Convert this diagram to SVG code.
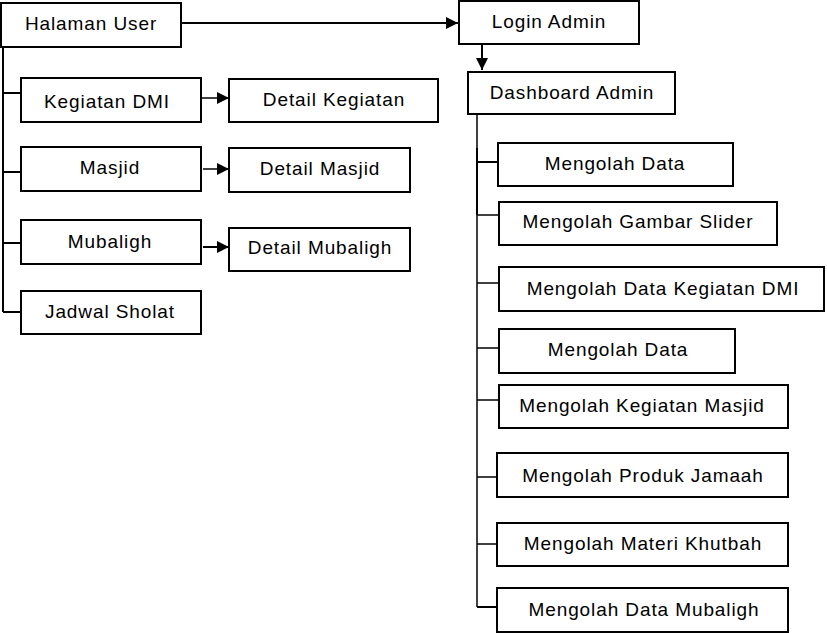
<svg xmlns="http://www.w3.org/2000/svg" width="827" height="633" viewBox="0 0 827 633">
<style>
.box{fill:#fff;stroke:#000;stroke-width:2}
.t{font-family:"Liberation Sans",Arial,sans-serif;font-size:19px;letter-spacing:0.9px;text-anchor:middle;fill:#000}
.c{fill:none;stroke:#000;stroke-width:2}
.c1{fill:none;stroke:#000;stroke-width:1.5}
</style>
<defs>
<marker id="ah" viewBox="0 0 10 10" refX="10" refY="5" markerWidth="5" markerHeight="5" orient="auto" markerUnits="userSpaceOnUse">
<path d="M0,0 L10,5 L0,10 z" fill="#000"/>
</marker>
<marker id="ahs" viewBox="0 0 10 10" refX="10" refY="5" markerWidth="12" markerHeight="12" orient="auto" markerUnits="userSpaceOnUse">
<path d="M0,0 L10,5 L0,10 z" fill="#000"/>
</marker>
</defs>
<rect width="827" height="633" fill="#fff"/>
<g id="connectors">
<path class="c" d="M181,23 H458" marker-end="url(#ahs)"/>
<path class="c" d="M482,44 V70" marker-end="url(#ahs)"/>
<path class="c" d="M3,47 V312"/>
<path class="c" d="M3,93 H21"/>
<path class="c" d="M3,172 H21"/>
<path class="c" d="M3,243 H21"/>
<path class="c" d="M3,312 H21"/>
<path class="c1" d="M202,98 H229" marker-end="url(#ahs)"/>
<path class="c1" d="M203,169 H229" marker-end="url(#ahs)"/>
<path class="c" d="M203,247 H229" marker-end="url(#ahs)"/>
<path class="c1" d="M477,114 V607"/>
<path class="c" d="M477,148 V215"/>
<path class="c" d="M477,162 H498"/>
<path class="c1" d="M477,215 H499"/>
<path class="c1" d="M477,283 H499"/>
<path class="c1" d="M477,348 H499"/>
<path class="c1" d="M477,400 H499"/>
<path class="c1" d="M477,477 H497"/>
<path class="c1" d="M477,544 H497"/>
<path class="c" d="M477,607 H497"/>
</g>
<g id="halaman-user"><rect class="box" x="1" y="3" width="180" height="44"/><text class="t" x="91" y="30">Halaman User</text></g>
<g id="login-admin"><rect class="box" x="459" y="1" width="180" height="43"/><text class="t" x="549" y="28">Login Admin</text></g>
<g id="kegiatan-dmi"><rect class="box" x="21" y="78" width="180" height="44"/><text class="t" x="107" y="108">Kegiatan DMI</text></g>
<g id="detail-kegiatan"><rect class="box" x="229" y="79" width="209" height="43"/><text class="t" x="334" y="106">Detail Kegiatan</text></g>
<g id="masjid"><rect class="box" x="21" y="147" width="180" height="44"/><text class="t" x="110" y="174">Masjid</text></g>
<g id="detail-masjid"><rect class="box" x="229" y="148" width="181" height="44"/><text class="t" x="320" y="175">Detail Masjid</text></g>
<g id="mubaligh"><rect class="box" x="21" y="220" width="180" height="44"/><text class="t" x="110" y="248">Mubaligh</text></g>
<g id="detail-mubaligh"><rect class="box" x="229" y="228" width="181" height="43"/><text class="t" x="320" y="254">Detail Mubaligh</text></g>
<g id="jadwal-sholat"><rect class="box" x="21" y="291" width="180" height="43"/><text class="t" x="110" y="318">Jadwal Sholat</text></g>
<g id="dashboard-admin"><rect class="box" x="468" y="72" width="207" height="42"/><text class="t" x="572" y="99">Dashboard Admin</text></g>
<g id="mengolah-data-1"><rect class="box" x="498" y="143" width="235" height="43"/><text class="t" x="615" y="170">Mengolah Data</text></g>
<g id="mengolah-gambar-slider"><rect class="box" x="499" y="202" width="278" height="43"/><text class="t" x="638" y="228">Mengolah Gambar Slider</text></g>
<g id="mengolah-data-kegiatan-dmi"><rect class="box" x="499" y="267" width="325" height="44"/><text class="t" x="663" y="295">Mengolah Data Kegiatan DMI</text></g>
<g id="mengolah-data-2"><rect class="box" x="499" y="329" width="236" height="44"/><text class="t" x="618" y="356">Mengolah Data</text></g>
<g id="mengolah-kegiatan-masjid"><rect class="box" x="499" y="385" width="289" height="43"/><text class="t" x="642" y="412">Mengolah Kegiatan Masjid</text></g>
<g id="mengolah-produk-jamaah"><rect class="box" x="497" y="453" width="291" height="44"/><text class="t" x="643" y="482">Mengolah Produk Jamaah</text></g>
<g id="mengolah-materi-khutbah"><rect class="box" x="497" y="523" width="291" height="43"/><text class="t" x="643" y="550">Mengolah Materi Khutbah</text></g>
<g id="mengolah-data-mubaligh"><rect class="box" x="497" y="588" width="291" height="44"/><text class="t" x="644" y="616">Mengolah Data Mubaligh</text></g>
</svg>
